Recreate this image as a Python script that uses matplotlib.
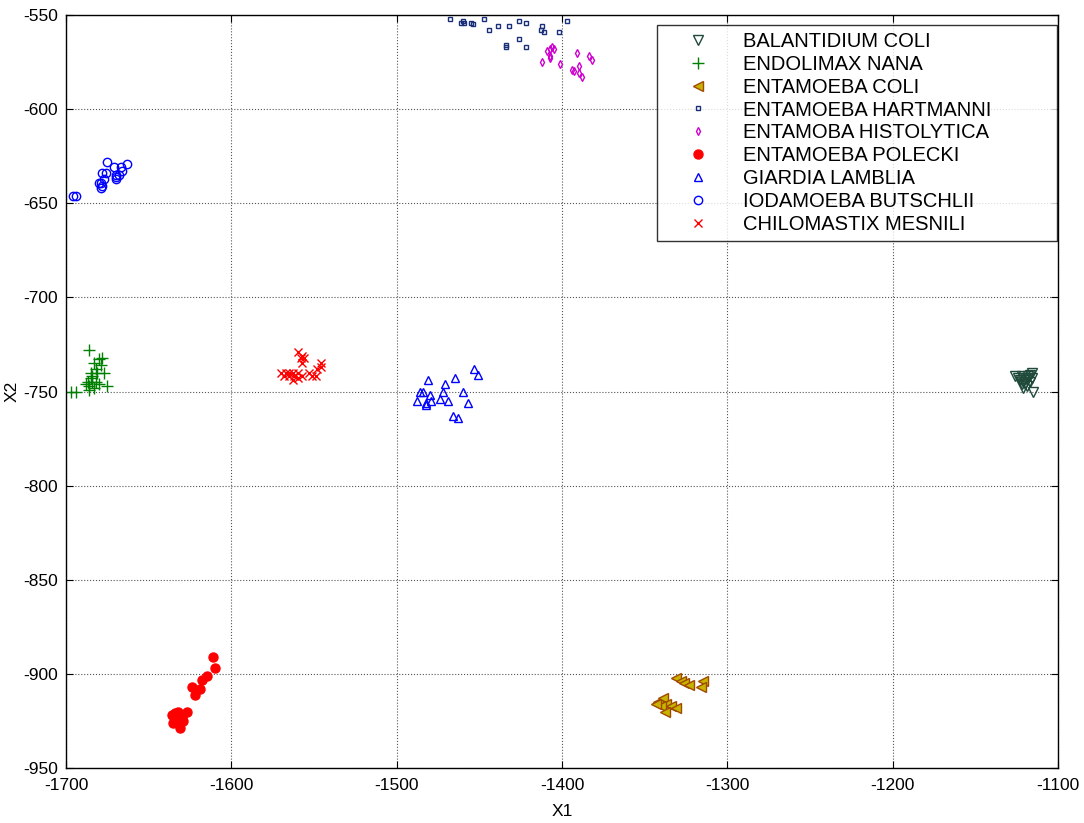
import numpy as np
import matplotlib
matplotlib.use("Agg")
import matplotlib.pyplot as plt

plt.rcParams["font.family"] = ["Liberation Sans", "DejaVu Sans"]
plt.rcParams["axes.unicode_minus"] = False

# cluster points, (X1, X2)
balantidium_coli = [(-1126, -742), (-1124, -743), (-1123, -744), (-1122, -742), (-1121, -745),
                    (-1120, -746), (-1119, -744), (-1118, -743), (-1117, -741), (-1116, -740),
                    (-1117, -745), (-1119, -747), (-1121, -748), (-1115, -750), (-1118, -742),
                    (-1120, -743), (-1116, -743), (-1122, -746)]
endolimax_nana = [(-1697, -750), (-1694, -750), (-1686, -728), (-1683, -735), (-1680, -733),
                  (-1678, -732), (-1682, -738), (-1685, -740), (-1684, -742), (-1687, -745),
                  (-1686, -747), (-1684, -745), (-1682, -745), (-1680, -746), (-1683, -748),
                  (-1686, -749), (-1685, -743), (-1681, -740), (-1679, -736), (-1677, -740),
                  (-1675, -747), (-1688, -746)]
entamoeba_coli = [(-1331, -902), (-1328, -904), (-1326, -905), (-1323, -906), (-1315, -904),
                  (-1316, -907), (-1342, -915), (-1339, -913), (-1337, -916), (-1340, -917),
                  (-1334, -917), (-1338, -920), (-1343, -916), (-1331, -918)]
entamoeba_hartmanni = [(-1468, -552), (-1460, -553), (-1461, -554), (-1459, -554), (-1455, -554),
                       (-1454, -555), (-1447, -552), (-1444, -558), (-1439, -556), (-1432, -556),
                       (-1426, -553), (-1422, -554), (-1426, -563), (-1434, -566), (-1434, -567),
                       (-1422, -567), (-1412, -556), (-1413, -558), (-1411, -559), (-1402, -559),
                       (-1397, -553)]
entamoba_histolytica = [(-1412, -575), (-1409, -569), (-1407, -568), (-1406, -567), (-1405, -568),
                        (-1407, -572), (-1407, -573), (-1401, -576), (-1391, -570), (-1390, -577),
                        (-1394, -579), (-1393, -580), (-1390, -581), (-1388, -583), (-1384, -572),
                        (-1382, -574)]
entamoeba_polecki = [(-1611, -891), (-1610, -897), (-1615, -901), (-1618, -903), (-1624, -907),
                     (-1619, -908), (-1622, -911), (-1627, -920), (-1632, -920), (-1636, -922),
                     (-1633, -924), (-1629, -925), (-1635, -926), (-1631, -929), (-1634, -921),
                     (-1630, -923)]
giardia_lamblia = [(-1453, -738), (-1451, -741), (-1481, -744), (-1465, -743), (-1471, -746),
                   (-1484, -750), (-1486, -750), (-1480, -752), (-1472, -750), (-1460, -750),
                   (-1488, -755), (-1482, -756), (-1482, -757), (-1479, -755), (-1474, -754),
                   (-1469, -755), (-1457, -756), (-1466, -763), (-1463, -764)]
iodamoeba_butschlii = [(-1675, -628), (-1663, -629), (-1678, -634), (-1676, -634), (-1671, -631),
                       (-1667, -631), (-1666, -633), (-1670, -635), (-1668, -635), (-1677, -637),
                       (-1670, -637), (-1679, -639), (-1680, -639), (-1678, -641), (-1679, -642),
                       (-1670, -636), (-1696, -646), (-1694, -646)]
chilomastix_mesnili = [(-1560, -729), (-1557, -731), (-1558, -732), (-1556, -732), (-1557, -735),
                       (-1546, -735), (-1546, -737), (-1548, -738), (-1570, -740), (-1567, -740),
                       (-1565, -740), (-1563, -740), (-1562, -742), (-1560, -740), (-1557, -742),
                       (-1560, -743), (-1563, -744), (-1553, -740), (-1551, -742), (-1549, -742),
                       (-1565, -742), (-1568, -742)]

labels = ["BALANTIDIUM COLI", "ENDOLIMAX NANA", "ENTAMOEBA COLI", "ENTAMOEBA HARTMANNI",
          "ENTAMOBA HISTOLYTICA", "ENTAMOEBA POLECKI", "GIARDIA LAMBLIA",
          "IODAMOEBA BUTSCHLII", "CHILOMASTIX MESNILI"]
groups = [balantidium_coli, endolimax_nana, entamoeba_coli, entamoeba_hartmanni,
          entamoba_histolytica, entamoeba_polecki, giardia_lamblia, iodamoeba_butschlii,
          chilomastix_mesnili]

# marker, size, face, edge
styles = [
    ("v", 7.5, "none", "#1f4a3a"),
    ("+", 9, "none", "#008000"),
    ("<", 7.5, "#c8b400", "#a04a00"),
    ("s", 3, "none", "#1a2f7a"),
    ("d", 4, "none", "#cc00cc"),
    ("o", 6.5, "#ff0000", "#ff0000"),
    ("^", 6, "none", "#0000ff"),
    ("o", 6, "none", "#0000ff"),
    ("x", 6, "none", "#ff0000"),
]

fig = plt.figure(figsize=(10.84, 8.23), dpi=100)
ax = fig.add_axes([0.0609, 0.0668, 0.9152, 0.915])

for pts, lab, (m, ms, fc, ec) in zip(groups, labels, styles):
    arr = np.array(pts)
    ax.plot(arr[:, 0], arr[:, 1], linestyle="none", marker=m, markersize=ms,
            markerfacecolor=fc, markeredgecolor=ec, markeredgewidth=1.0, label=lab)

ax.set_xlim(-1700, -1100)
ax.set_ylim(-950, -550)
ax.set_xticks(np.arange(-1700, -1099, 100))
ax.set_yticks(np.arange(-950, -549, 50))
ax.grid(True, color="#555555", linestyle=":", linewidth=0.8)
ax.tick_params(direction="in", length=5, labelsize=12.5, top=True, right=True,
               labeltop=False, labelright=False)
ax.tick_params(axis="x", pad=7)
ax.tick_params(axis="y", pad=6)
for s in ax.spines.values():
    s.set_linewidth(1.0)
    s.set_color("black")
ax.set_xlabel("X1", fontsize=12.5, labelpad=8)
ax.set_ylabel("X2", fontsize=12.5, labelpad=2)

# legend box spans x 657..1057, top at y 25 in the reference
x0, x1, ytop = 657 / 1084, 1057 / 1084, 1 - 25 / 823
leg = ax.legend(loc="upper left", bbox_to_anchor=(x0, ytop - 0.3, x1 - x0, 0.3),
                bbox_transform=fig.transFigure, mode="expand", fontsize=14.5,
                frameon=True, fancybox=False, borderaxespad=0, handletextpad=0.5,
                labelspacing=0.19, borderpad=0.35, handlelength=3.4)
leg.get_frame().set_edgecolor("black")
leg.get_frame().set_linewidth(1.0)

fig.savefig("out.png", dpi=100)
